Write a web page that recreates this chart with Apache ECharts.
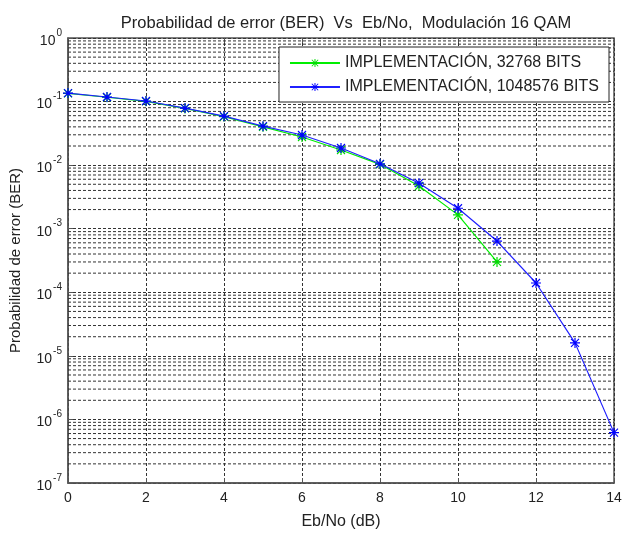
<!DOCTYPE html>
<html>
<head>
<meta charset="utf-8">
<script src="https://cdn.jsdelivr.net/npm/echarts@6/dist/echarts.min.js"></script>
<style>html,body{margin:0;padding:0;background:#fff;}#c{width:627px;height:535px;}</style>
</head>
<body>
<div id="c"></div>
<script>
const titleText = 'Probabilidad de error (BER)  Vs  Eb/No,  Modulación 16 QAM';
const xName = 'Eb/No (dB)';
const yName = 'Probabilidad de error (BER)';
const seriesNames = ['IMPLEMENTACIÓN, 32768 BITS', 'IMPLEMENTACIÓN, 1048576 BITS'];
const ebnoBlue = [0, 1, 2, 3, 4, 5, 6, 7, 8, 9, 10, 11, 12, 13, 14];
const berBlue = [0.136, 0.118, 0.102, 0.079, 0.059, 0.041, 0.0298, 0.0186, 0.0105, 0.0052, 0.0021, 0.00064, 0.00014, 0.000016, 0.00000062];
const ebnoGreen = [0, 1, 2, 3, 4, 5, 6, 7, 8, 9, 10, 11];
const berGreen = [0.135, 0.117, 0.101, 0.078, 0.058, 0.040, 0.0277, 0.0173, 0.0103, 0.0047, 0.00165, 0.00030];
const xTicks = [0, 2, 4, 6, 8, 10, 12, 14];
const decades = [-7, -6, -5, -4, -3, -2, -1, 0];
const minorMult = [2, 3, 4, 5, 6, 7, 8, 9];

const star = 'path://M4.4,0L5.6,0L5.6,10L4.4,10Z M0,4.4L10,4.4L10,5.6L0,5.6Z M1.4,0.6L9.4,8.6L8.6,9.4L0.6,1.4Z M8.6,0.6L9.4,1.4L1.4,9.4L0.6,8.6Z';

// minor horizontal grid lines (2..9 x 10^k), drawn as broken line segments across the x range
const minorGrid = [];
decades.slice(0, -1).forEach(function (k) {
  minorMult.forEach(function (m) {
    const v = m * Math.pow(10, k);
    minorGrid.push([xTicks[0], v], [xTicks[xTicks.length - 1], v], null);
  });
});

const font = '"Liberation Sans", Arial, sans-serif';
const dash = [3, 2];

const chart = echarts.init(document.getElementById('c'), null, { renderer: 'canvas' });
chart.setOption({
  animation: false,
  backgroundColor: '#fff',
  title: {
    text: titleText, left: 341, textAlign: 'center', top: 10,
    textStyle: { fontFamily: font, fontSize: 16.5, fontWeight: 'normal', color: '#222' }
  },
  grid: { left: 67, right: 13, top: 38, bottom: 52, show: true, borderColor: '#555', borderWidth: 1.5, backgroundColor: '#fff' },
  legend: {
    data: seriesNames, orient: 'vertical', right: 18, top: 47, z: 10,
    backgroundColor: '#fff', borderColor: '#222', borderWidth: 1, padding: [8, 10, 7, 10],
    itemWidth: 50, itemHeight: 10, itemGap: 8,
    textStyle: { fontFamily: font, fontSize: 16, color: '#222' }
  },
  xAxis: [{
    type: 'value', min: 0, max: 14, interval: 2,
    name: xName, nameLocation: 'middle', nameGap: 31,
    nameTextStyle: { fontFamily: font, fontSize: 16, color: '#222' },
    axisLine: { show: true, lineStyle: { color: '#555', width: 1.5 } },
    axisTick: { show: true, inside: true, length: 5, lineStyle: { color: '#555' } },
    axisLabel: { fontFamily: font, fontSize: 14, color: '#222', margin: 8 },
    splitLine: { show: true, lineStyle: { color: '#333', type: dash, width: 1 } }
  }, {
    type: 'value', min: 0, max: 14, interval: 2, position: 'top',
    axisLine: { show: false }, axisLabel: { show: false }, splitLine: { show: false },
    axisTick: { show: true, inside: true, length: 5, lineStyle: { color: '#555' } }
  }],
  yAxis: [{
    type: 'log', logBase: 10, min: 1e-7, max: 1, interval: 1,
    name: yName, nameLocation: 'middle', nameGap: 45,
    nameTextStyle: { fontFamily: font, fontSize: 15, color: '#222' },
    axisLine: { show: true, lineStyle: { color: '#555', width: 1.5 } },
    axisTick: { show: true, inside: true, length: 5, lineStyle: { color: '#555' } },
    axisLabel: {
      margin: 6,
      formatter: function (v) { return '{b|10}{s|' + Math.round(Math.log10(v)) + '}'; },
      rich: {
        b: { fontFamily: font, fontSize: 14, color: '#222', lineHeight: 20, verticalAlign: 'bottom' },
        s: { fontFamily: font, fontSize: 10, color: '#222', lineHeight: 20, verticalAlign: 'top', padding: [0, 0, 10, 1] }
      }
    },
    splitLine: { show: true, lineStyle: { color: '#333', type: dash, width: 1 } }
  }],
  series: [{
    name: 'minor', type: 'line', data: minorGrid, silent: true, z: 1,
    connectNulls: false, symbol: 'none',
    lineStyle: { color: '#333', type: dash, width: 1 },
    tooltip: { show: false }
  }, {
    name: seriesNames[0], type: 'line', z: 3,
    data: ebnoGreen.map(function (x, i) { return [x, berGreen[i]]; }),
    color: '#00ee00',
    lineStyle: { color: '#00ee00', width: 1.2 },
    itemStyle: { color: '#00dd00' },
    symbol: star, symbolSize: 10, showAllSymbol: true
  }, {
    name: seriesNames[1], type: 'line', z: 4,
    data: ebnoBlue.map(function (x, i) { return [x, berBlue[i]]; }),
    color: '#0000ff',
    lineStyle: { color: '#2020ff', width: 1.2 },
    itemStyle: { color: '#0000ff' },
    symbol: star, symbolSize: 10, showAllSymbol: true
  }]
});
</script>
</body>
</html>
